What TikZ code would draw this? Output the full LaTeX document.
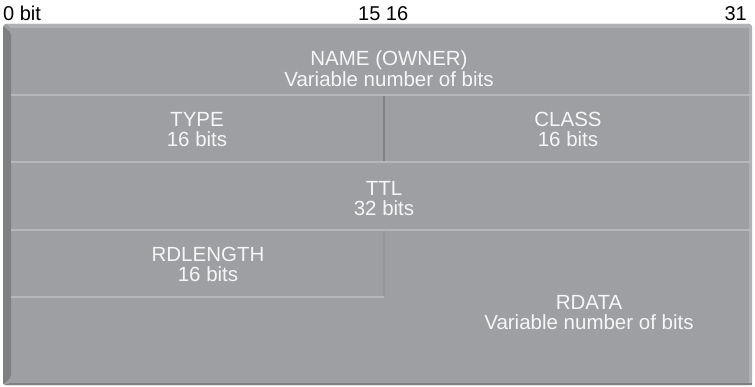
\documentclass[tikz,border=0pt]{standalone}
\usepackage{fontspec}
\setmainfont{Liberation Sans}
\definecolor{panel}{RGB}{158,159,163}
\definecolor{beveldark}{RGB}{126,127,131}
\definecolor{toplight}{RGB}{176,177,181}
\definecolor{seplight}{RGB}{182,183,187}
\definecolor{divdark}{RGB}{128,129,133}
\definecolor{divfaint}{RGB}{148,149,153}
\definecolor{labelwhite}{RGB}{246,246,246}
\begin{document}
\begin{tikzpicture}[x=1pt,y=-1pt,
  lbl/.style={text=labelwhite, align=center, inner sep=0pt, anchor=base,
    font=\fontsize{20.5}{20.7}\selectfont},
  hdr/.style={text=black, inner sep=0pt, anchor=base west,
    font=\fontsize{20}{22}\selectfont},
  sep/.style={draw=seplight, line width=2.2pt},
  divline/.style={draw=divdark, line width=2pt},
  faintline/.style={draw=divfaint, line width=1.2pt}]
\useasboundingbox (0,0) rectangle (755,387);
% panel body
\fill[panel, rounded corners=3pt] (3,24) rectangle (752,385);
% top highlight
\fill[toplight] (6,24) -- (749,24) -- (752,27) -- (752,28) -- (11,28) -- cycle;
% left bevel
\fill[beveldark, rounded corners=2pt] (3,26) -- (11,33) -- (11,377) -- (3,385) -- cycle;
% right edge highlight
\fill[toplight] (749,28) rectangle (752,385);
% bottom edge
\fill[beveldark] (11,383) -- (752,383) -- (752,385) -- (3,385) -- cycle;
% coordinates
\coordinate (r1l) at (11,95);   \coordinate (r1r) at (752,95);
\coordinate (r2l) at (11,162);  \coordinate (r2r) at (752,162);
\coordinate (r3l) at (11,230);  \coordinate (r3r) at (752,230);
\coordinate (r4l) at (11,297);  \coordinate (r4r) at (384,297);
\coordinate (v1t) at (384,96);  \coordinate (v1b) at (384,161);
\coordinate (v2t) at (384,231); \coordinate (v2b) at (384,296);
% separators
\draw[sep] (r1l) -- (r1r);
\draw[sep] (r2l) -- (r2r);
\draw[sep] (r3l) -- (r3r);
\draw[sep] (r4l) -- (r4r);
\draw[divline] (v1t) -- (v1b);
\draw[faintline] (v2t) -- (v2b);
% header labels
\node[hdr] (b0) at (3,21) {0 bit};
\node[hdr] (b15) at (358,21) {15 16};
\node[hdr, anchor=base east] (b31) at (747,21) {31};
% field labels (base anchor = baseline of the last line)
\node[lbl] (name) at (389,86.7) {NAME (OWNER)\\Variable number of bits};
\node[lbl] (type) at (197,147) {TYPE\\16 bits};
\node[lbl] (class) at (568,147) {CLASS\\16 bits};
\node[lbl] (ttl) at (384,216) {TTL\\32 bits};
\node[lbl] (rdlen) at (208,282) {RDLENGTH\\16 bits};
\node[lbl] (rdata) at (589,330) {RDATA\\Variable number of bits};
\end{tikzpicture}
\end{document}
